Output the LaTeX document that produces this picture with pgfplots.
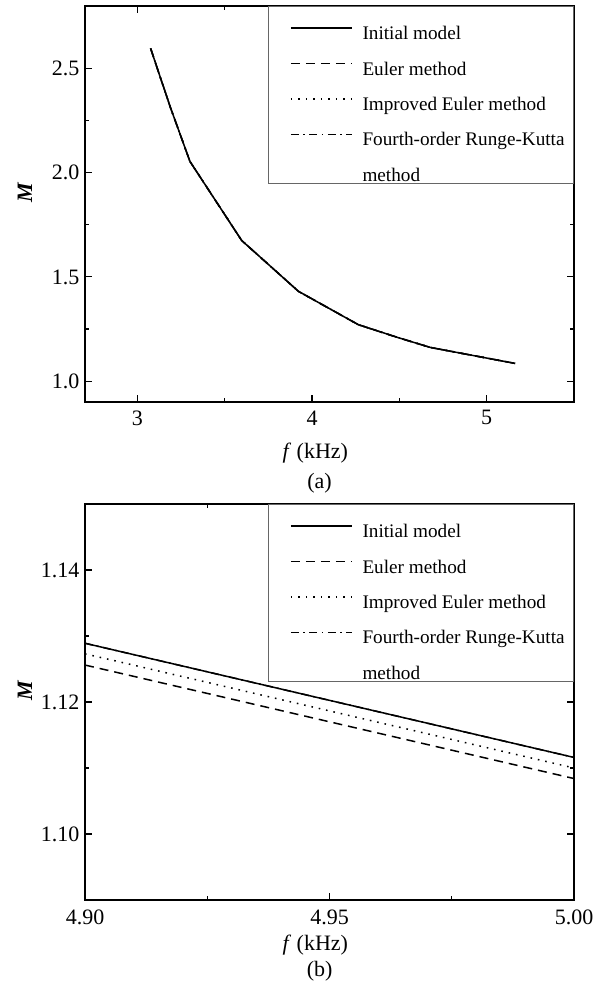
\documentclass[border=0pt]{standalone}
\usepackage{fontspec}
\setmainfont{Liberation Serif}
\usepackage{pgfplots}
\usepackage{pgfplotstable}
\pgfplotsset{compat=1.18}

% curve of panel (a); the four methods coincide at this scale
\pgfplotstableread{
f M
3.076 2.596
3.187 2.318
3.301 2.054
3.597 1.675
3.922 1.431
4.265 1.271
4.485 1.211
4.676 1.162
5.163 1.085
}\curvea

% panel (b), zoom on 4.90--5.00 kHz
\pgfplotstableread{
f Mi Me Mie
4.90 1.1289 1.1256 1.1273
5.00 1.1116 1.1084 1.1100
}\curveb

\pgfplotsset{
  panel/.style={
    width=489pt, height=396pt, scale only axis,
    axis line style={line width=1.2pt},
    every tick/.style={black, line width=1.1pt},
    major tick length=7pt, minor tick length=4pt,
    tick align=inside,
    minor x tick num=1, minor y tick num=1,
    scaled ticks=false,
    ticklabel style={font=\fontsize{22}{26}\selectfont},
    yticklabel style={xshift=-2pt},
    /pgf/number format/assume math mode=true,
    label style={font=\fontsize{22}{26}\selectfont},
    ylabel={\textbf{\textit{M}}},
    ylabel style={at={(axis description cs:-0.123,0.53)}, anchor=center},
    xlabel={\textit{f} (kHz)},
    legend style={at={(1,1)}, anchor=north east, draw=black!60, line width=0.8pt,
      font=\fontsize{19.2}{23}\selectfont, inner xsep=9pt, inner ysep=2pt,
      row sep=3.35pt, column sep=10pt,
      cells={anchor=base west},
      nodes={inner sep=0pt, text height=31.3pt, text depth=0pt}},
    legend image code/.code={\path (-13pt,0pt); \draw[#1] (0pt,11.5pt) -- (61pt,11.5pt);},
  },
  initial/.style={black, line width=1.5pt, solid},
  euler/.style={black, line width=1.5pt, dash pattern=on 9pt off 6pt},
  improved/.style={black, line width=1.5pt, dash pattern=on 1.6pt off 5.9pt},
  rk/.style={black, line width=1.5pt, dash pattern=on 8pt off 4.5pt on 1.5pt off 4.5pt},
}

\begin{document}
\begin{tikzpicture}
\path[use as bounding box] (0pt,0pt) rectangle (608pt,985pt);

\begin{axis}[panel,
  at={(85pt,583pt)}, anchor=south west,
  xmin=2.7, xmax=5.5, ymin=0.9, ymax=2.8,
  xtick={3,4,5}, ytick={1.0,1.5,2.0,2.5},
  xticklabel style={yshift=-5pt},
  yticklabel style={/pgf/number format/.cd, fixed, fixed zerofill, precision=1},
  xlabel style={at={(axis description cs:0.471,0)}, anchor=center, yshift=-51pt},
]
\addplot[initial] table[x=f, y=M] {\curvea};
\addlegendentry{Initial model}
\addplot[euler] table[x=f, y=M] {\curvea};
\addlegendentry{Euler method}
\addplot[improved] table[x=f, y=M] {\curvea};
\addlegendentry{Improved Euler method}
\addplot[rk] table[x=f, y=M] {\curvea};
\addlegendentry{Fourth-order Runge-Kutta}
\addlegendimage{empty legend}
\addlegendentry{method}
\end{axis}

\node[font=\fontsize{22}{26}\selectfont] at (319.5pt,502pt) {(a)};

\begin{axis}[panel,
  at={(85pt,85pt)}, anchor=south west,
  xmin=4.9, xmax=5.0, ymin=1.09, ymax=1.15,
  xtick={4.90,4.95,5.00}, ytick={1.10,1.12,1.14},
  xticklabel style={yshift=-6pt, /pgf/number format/.cd, fixed, fixed zerofill, precision=2},
  yticklabel style={/pgf/number format/.cd, fixed, fixed zerofill, precision=2},
  xlabel style={at={(axis description cs:0.471,0)}, anchor=center, yshift=-45pt},
]
\addplot[initial] table[x=f, y=Mi] {\curveb};
\addlegendentry{Initial model}
\addplot[euler] table[x=f, y=Me] {\curveb};
\addlegendentry{Euler method}
\addplot[improved] table[x=f, y=Mie] {\curveb};
\addlegendentry{Improved Euler method}
\addplot[rk] table[x=f, y=Mi] {\curveb};
\addlegendentry{Fourth-order Runge-Kutta}
\addlegendimage{empty legend}
\addlegendentry{method}
\end{axis}

\node[font=\fontsize{22}{26}\selectfont] at (319.6pt,13.3pt) {(b)};
\end{tikzpicture}
\end{document}
